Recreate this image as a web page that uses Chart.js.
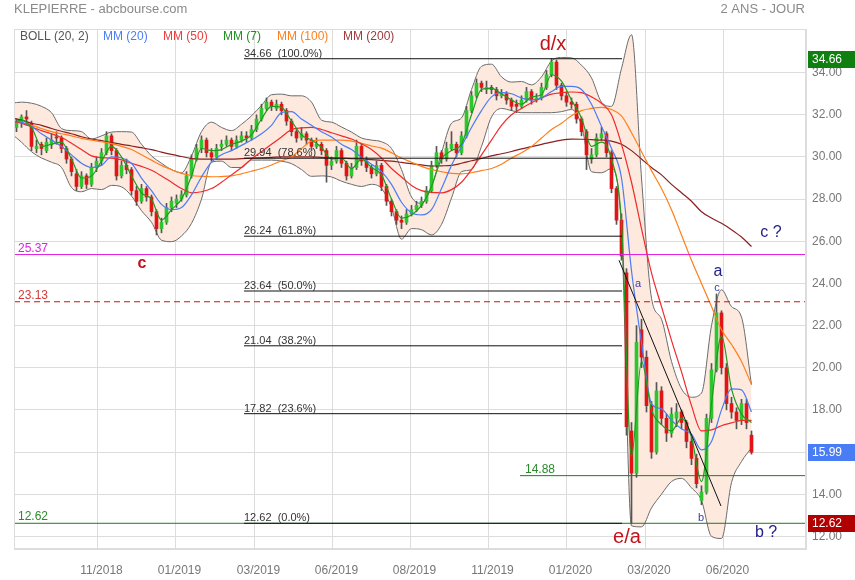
<!DOCTYPE html>
<html>
<head>
<meta charset="utf-8">
<script src="https://cdn.jsdelivr.net/npm/chart.js@4.4.1/dist/chart.umd.min.js"></script>
<style>
  html, body { margin: 0; padding: 0; background: #fff; }
  canvas { display: block; }
</style>
</head>
<body>
<canvas id="chart" width="855" height="580"></canvas>
<script>
// KLEPIERRE daily candles (one candle ~ every 2-3 sessions)
const opens = [
  31.4,31.6,31.9,31.6,30.4,30.6,30.3,30.6,30.95,30.9,
  30.4,29.9,29.2,28.6,29.1,28.7,29.5,29.8,30.2,31.0,
  30.3,29.1,29.6,29.4,28.4,27.9,28.5,28.1,27.4,26.6,
  26.9,27.6,27.8,28.0,28.2,29.1,29.9,30.4,30.8,30.2,
  30.0,30.5,30.6,30.8,30.5,30.8,31.0,30.9,31.3,31.8,
  32.3,32.6,32.3,32.5,32.2,31.7,31.2,30.9,31.1,30.8,
  30.5,30.6,30.3,29.6,29.8,30.3,29.7,29.1,29.5,30.5,
  29.8,29.5,29.2,29.6,28.6,27.9,27.4,27.0,26.9,27.3,
  27.5,27.7,27.9,28.4,29.6,30.2,29.9,30.4,30.6,30.2,
  31.0,32.2,32.9,33.5,33.2,33.3,33.2,32.9,33.0,32.7,
  32.5,32.4,32.7,33.1,32.7,32.8,33.3,33.9,34.5,33.4,
  32.9,32.6,32.5,31.8,31.2,29.9,30.1,30.9,31.1,30.2,
  28.5,27.0,24.5,17.0,15.0,21.8,20.5,18.2,16.0,18.9,
  17.6,16.9,17.6,17.9,17.4,16.5,15.7,13.7,14.1,17.6,
  19.9,22.6,20.0,18.3,17.9,17.5,18.3,16.8
];
const highs = [
  31.8,32.0,32.2,31.7,30.8,30.7,30.9,31.1,31.2,31.0,
  30.5,30.0,29.4,29.3,29.2,29.7,30.0,30.4,31.2,31.1,
  30.4,29.8,29.9,29.5,28.6,28.7,28.6,28.2,27.5,27.1,
  27.8,28.1,28.2,28.4,29.3,30.1,30.6,31.0,30.9,30.4,
  30.6,30.8,31.0,30.9,31.0,31.2,31.2,31.5,32.0,32.5,
  32.8,32.7,32.7,32.6,32.3,31.8,31.3,31.4,31.2,30.9,
  30.9,30.7,30.4,30.0,30.5,30.4,29.8,29.7,30.8,30.6,
  30.0,29.6,29.8,29.7,28.7,28.0,27.5,27.2,27.5,27.7,
  27.9,28.1,28.6,29.8,30.5,30.3,30.7,31.2,30.7,31.2,
  32.4,33.1,33.7,33.6,33.6,33.4,33.3,33.2,33.1,32.8,
  32.7,32.9,33.3,33.2,33.0,33.5,34.1,34.66,34.6,33.5,
  33.1,32.8,32.6,31.9,31.3,30.4,31.1,31.4,31.2,30.3,
  28.6,27.3,24.7,17.4,22.0,22.3,20.8,18.4,19.3,19.1,
  17.8,18.1,18.3,18.0,17.5,16.7,15.9,14.4,17.8,20.2,
  23.5,22.7,20.2,18.6,18.1,18.5,18.5,17.0
];
const lows = [
  31.2,31.4,31.5,30.3,30.2,30.1,30.2,30.4,30.6,30.2,
  29.7,29.1,28.4,28.5,28.5,28.6,29.3,29.6,30.1,30.1,
  28.9,29.0,29.2,28.2,27.7,27.8,27.9,27.2,26.3,26.4,
  26.8,27.4,27.6,27.9,28.1,29.0,29.8,30.2,30.0,29.8,
  29.9,30.3,30.5,30.3,30.4,30.7,30.7,30.8,31.2,31.7,
  32.2,32.2,32.2,32.0,31.5,31.0,30.7,30.8,30.6,30.3,
  30.4,30.1,28.8,29.4,29.7,29.5,28.9,29.0,29.4,29.6,
  29.3,29.0,29.1,28.4,27.7,27.2,26.8,26.6,26.8,27.2,
  27.4,27.6,27.8,28.3,29.5,29.7,29.8,30.3,30.0,30.1,
  30.9,32.1,32.8,33.1,33.0,33.0,32.7,32.8,32.5,32.2,
  32.1,32.3,32.6,32.5,32.6,32.7,33.2,33.8,33.2,32.7,
  32.4,32.3,31.6,31.0,29.4,29.7,30.0,30.8,30.0,28.3,
  26.8,25.1,16.8,12.62,14.8,20.0,17.9,15.7,15.9,17.3,
  16.5,16.7,17.2,17.1,16.2,15.4,14.3,13.5,14.0,17.4,
  19.8,19.7,18.0,17.6,17.1,17.3,17.1,15.9
];
const closes = [
  31.6,31.9,31.8,30.5,30.5,30.4,30.7,30.8,30.9,30.4,
  29.9,29.3,28.6,29.1,28.7,29.5,29.8,30.2,31.0,30.3,
  29.1,29.6,29.4,28.4,27.9,28.5,28.1,27.4,26.6,26.9,
  27.6,27.9,28.0,28.2,29.1,29.9,30.4,30.8,30.2,30.0,
  30.4,30.6,30.8,30.5,30.8,31.0,30.9,31.3,31.8,32.3,
  32.6,32.4,32.5,32.2,31.7,31.2,30.9,31.1,30.8,30.5,
  30.6,30.3,29.6,29.8,30.3,29.7,29.1,29.5,30.5,29.8,
  29.5,29.2,29.6,28.6,27.9,27.4,27.0,26.9,27.3,27.5,
  27.7,27.9,28.4,29.6,30.2,29.9,30.4,30.6,30.2,31.0,
  32.2,32.9,33.5,33.3,33.3,33.2,32.9,33.0,32.7,32.4,
  32.4,32.7,33.1,32.7,32.8,33.3,33.9,34.5,33.4,32.9,
  32.6,32.5,31.8,31.2,30.1,30.1,30.9,31.1,30.2,28.5,
  27.0,25.3,17.2,15.0,21.2,20.5,18.2,16.0,18.9,17.6,
  16.9,17.8,17.9,17.4,16.5,15.7,14.5,14.1,17.6,19.9,
  22.6,20.0,18.3,17.9,17.5,18.3,17.4,15.99
];

// indicator curves, one reading every 2 candles starting at candle -1
const lineStart = -1;
const lineStep = 2;
const mm7 = [
  31.6,31.75,31.4,30.5,30.6,30.7,29.9,29.0,29.1,29.8,
  30.5,30.0,29.1,28.3,28.0,27.0,27.5,28.0,29.1,30.4,
  30.3,30.35,30.6,30.75,31.05,31.8,32.4,32.35,31.7,31.05,
  30.8,30.45,29.9,29.95,29.45,29.9,29.5,29.15,28.0,27.1,
  27.25,27.7,28.6,29.9,30.3,30.6,32.0,33.2,33.25,33.0,
  32.7,32.5,32.85,32.95,33.9,33.6,32.7,31.85,30.5,30.7,
  29.9,26.9,15.8,20.3,18.0,17.3,17.0,17.6,16.7,14.6,
  18.3,21.5,19.0,17.8,17.4
];
const mm20 = [
  31.7,31.65,31.45,31.1,30.8,30.5,30.1,29.7,29.5,29.6,
  30.0,29.95,29.7,29.0,28.4,27.75,27.5,27.6,28.2,29.05,
  29.75,30.1,30.3,30.55,30.8,31.1,31.5,32.1,32.15,31.8,
  31.5,31.2,30.95,30.6,30.35,29.98,29.65,29.3,28.7,27.85,
  27.35,27.25,27.5,28.5,29.6,30.5,31.4,32.2,32.85,33.05,
  33.0,32.8,32.7,32.8,33.1,33.35,33.35,33.2,32.5,31.45,
  30.4,29.0,24.6,21.2,18.3,18.05,17.5,17.1,16.85,16.1,
  16.5,18.0,19.0,18.95,17.9
];
const mm50 = [
  31.7,31.6,31.42,31.25,31.1,30.92,30.65,30.35,30.05,29.97,
  29.94,29.86,29.7,29.55,29.37,29.1,28.8,28.5,28.3,28.35,
  28.5,28.8,29.15,29.5,29.9,30.25,30.6,30.95,31.3,31.38,
  31.4,31.3,31.15,31.0,30.85,30.62,30.35,29.95,29.45,29.05,
  28.65,28.4,28.32,28.3,28.45,28.8,29.4,30.1,30.8,31.5,
  32.0,32.3,32.57,32.8,32.98,33.05,33.08,33.05,32.85,32.55,
  32.0,30.6,28.8,26.6,24.5,22.9,21.3,19.8,18.2,17.0,
  17.05,17.25,17.38,17.5,17.5
];
const mm100 = [
  31.7,31.6,31.5,31.35,31.2,31.1,31.0,30.88,30.8,30.72,
  30.63,30.5,30.35,30.1,29.85,29.6,29.4,29.22,29.12,29.08,
  29.06,29.07,29.1,29.2,29.32,29.45,29.62,29.82,30.0,30.4,
  30.75,30.8,30.8,30.8,30.75,30.65,30.52,30.42,30.2,29.95,
  29.75,29.55,29.4,29.3,29.22,29.2,29.25,29.35,29.45,29.65,
  29.95,30.2,30.5,30.9,31.3,31.6,31.95,32.2,32.3,32.35,
  32.25,31.95,31.15,30.25,29.35,28.5,27.5,26.3,25.1,24.0,
  22.9,21.8,21.1,20.3,19.2
];
const mm200 = [
  31.85,31.75,31.6,31.5,31.35,31.22,31.1,30.96,30.85,30.77,
  30.69,30.6,30.52,30.44,30.35,30.23,30.12,30.02,29.92,29.9,
  29.9,29.9,29.9,29.92,29.94,29.96,29.98,30.0,30.0,30.0,
  30.0,29.98,29.96,29.94,29.92,29.9,29.87,29.84,29.8,29.74,
  29.68,29.62,29.57,29.58,29.6,29.7,29.82,29.93,30.05,30.15,
  30.26,30.38,30.49,30.6,30.7,30.8,30.85,30.84,30.82,30.8,
  30.75,30.6,30.3,29.9,29.5,29.15,28.7,28.3,27.9,27.4,
  27.1,26.85,26.55,26.2,25.75
];
const bollUpper = [
  32.55,32.6,32.55,32.4,32.1,31.35,31.25,31.2,30.85,31.0,
  31.18,31.2,31.18,30.6,30.05,29.7,29.4,29.25,30.05,31.2,
  31.65,31.4,31.25,31.55,31.95,32.45,32.95,32.98,32.9,32.9,
  32.6,31.75,31.65,31.42,31.18,30.9,30.8,30.72,30.4,29.4,
  28.1,27.8,28.6,30.2,31.6,31.85,33.2,34.3,34.4,33.8,
  33.55,33.58,33.42,33.8,34.55,34.72,34.7,34.35,33.75,32.6,
  32.4,34.2,35.8,29.0,23.3,22.3,20.3,19.0,18.6,18.8,
  22.0,23.7,22.9,22.4,19.2
];
const bollLower = [
  31.1,30.7,30.25,29.95,29.75,29.5,28.55,28.35,28.5,28.45,
  28.65,28.58,28.15,27.45,26.9,26.05,25.98,26.25,26.85,28.0,
  29.75,29.8,29.5,29.5,29.85,29.85,29.85,29.8,29.68,29.4,
  29.08,29.1,29.05,28.85,28.7,28.6,28.7,28.5,27.6,26.1,
  26.6,26.55,26.3,26.8,28.05,29.3,29.4,30.5,31.9,32.3,
  32.2,32.1,32.1,32.1,32.1,32.15,32.25,31.5,29.3,29.25,
  29.45,26.5,12.5,12.45,13.35,14.0,14.6,14.75,14.3,13.7,
  12.0,11.9,14.55,15.55,16.2
];

// axes
const xTickPos = [16.2, 31.8, 47.6, 63.2, 78.8, 94.4, 110.0, 125.7, 141.4];
const xTickLabels = ['11/2018', '01/2019', '03/2019', '06/2019', '08/2019', '11/2019', '01/2020', '03/2020', '06/2020'];
const yTicks = [12, 14, 16, 18, 20, 22, 24, 26, 28, 30, 32, 34];

// drawn levels
const fibLevels = [34.66, 29.94, 26.24, 23.64, 21.04, 17.82, 12.62];
const fibPcts = ['100.0%', '78.6%', '61.8%', '50.0%', '38.2%', '23.6%', '0.0%'];
const fibFrom = 45.5, fibTo = 121.1;
const resistLevel = 25.37;
const stopLevel = 23.13;
const lowLevel = 12.62;
const supportLevel = 14.88, supportFrom = 100.7;
const trendX = [120.5, 140.9];
const trendY = [25.1, 13.44];
const lastValue = 15.99, highValue = 34.66;

const FONT = '"Liberation Sans", Arial, sans-serif';
const X_MIN = -0.5, X_MAX = 157.9;

const series = vals => vals.map((v, k) => ({ x: lineStart + k * lineStep, y: v }));

function maLine(vals, color, order) {
  return {
    type: 'line', data: series(vals), borderColor: color, borderWidth: 1.2,
    pointRadius: 0, cubicInterpolationMode: 'monotone', fill: false, order
  };
}

function hLine(level, from, to, color, dash, order = 1) {
  return {
    type: 'line', data: [{ x: from, y: level }, { x: to, y: level }],
    borderColor: color, borderWidth: 1, borderDash: dash || [], pointRadius: 0,
    fill: false, order
  };
}

const isUp = closes.map((c, i) => c >= opens[i]);

const datasets = [
  {
    type: 'line', data: series(bollUpper), borderColor: '#6b6b6b', borderWidth: 1,
    pointRadius: 0, cubicInterpolationMode: 'monotone', fill: '+1',
    backgroundColor: '#fde9de', order: 20
  },
  {
    type: 'line', data: series(bollLower), borderColor: '#6b6b6b', borderWidth: 1,
    pointRadius: 0, cubicInterpolationMode: 'monotone', fill: false, order: 19
  },
  {
    type: 'bar', data: closes.map((c, i) => ({ x: i, y: [lows[i], highs[i]] })),
    backgroundColor: '#555555', barThickness: 1, grouped: false, order: 16
  },
  {
    type: 'bar', data: closes.map((c, i) => ({ x: i, y: [opens[i], c] })),
    backgroundColor: isUp.map(u => u ? '#2fc52f' : '#e01616'),
    barThickness: 3, grouped: false, minBarLength: 1, order: 15
  },
  maLine(mm200, '#8b1f1f', 10),
  maLine(mm100, '#ff7f1a', 9),
  maLine(mm50, '#f02a2a', 8),
  maLine(mm20, '#4a7df5', 7),
  maLine(mm7, '#1f9a1f', 6),
  ...fibLevels.map(lv => hLine(lv, fibFrom, fibTo, '#111111')),
  hLine(resistLevel, X_MIN, X_MAX, '#e01ee0'),
  hLine(stopLevel, X_MIN, X_MAX, '#d01010', [6, 4]),
  hLine(lowLevel, X_MIN, X_MAX, '#1f7a1f', null, 2),
  hLine(supportLevel, supportFrom, X_MAX, '#1f7a1f'),
  {
    type: 'line', data: trendX.map((x, i) => ({ x, y: trendY[i] })),
    borderColor: '#111111', borderWidth: 1, pointRadius: 0, fill: false, order: 1
  }
];

const levelTags = [
  { text: resistLevel.toFixed(2), x: X_MIN + 0.8, y: resistLevel, color: '#e01ee0' },
  { text: stopLevel.toFixed(2), x: X_MIN + 0.8, y: stopLevel, color: '#d03a3a' },
  { text: lowLevel.toFixed(2), x: X_MIN + 0.8, y: lowLevel, color: '#2a8a2a' },
  { text: supportLevel.toFixed(2), x: supportFrom + 1, y: supportLevel, color: '#2a8a2a' }
];

const waveLabels = [
  { text: 'd/x', x: 107.3, y: 35.35, color: '#c4121a', size: 20 },
  { text: 'c', x: 25.1, y: 24.96, color: '#c4121a', size: 16, bold: true },
  { text: 'e/a', x: 122.1, y: 11.97, color: '#c4121a', size: 20 },
  { text: 'a', x: 140.3, y: 24.54, color: '#22228c', size: 16 },
  { text: 'c ?', x: 150.9, y: 26.39, color: '#22228c', size: 16 },
  { text: 'b ?', x: 149.9, y: 12.2, color: '#22228c', size: 16 },
  { text: 'a', x: 124.3, y: 23.97, color: '#3a3aa8', size: 11 },
  { text: 'c', x: 140.1, y: 23.78, color: '#3a3aa8', size: 11 },
  { text: 'b', x: 136.9, y: 12.87, color: '#3a3aa8', size: 11 }
];

const legendItems = [
  { text: 'BOLL (20, 2)', dx: 6, color: '#555555' },
  { text: 'MM (20)', dx: 89, color: '#4a7df5' },
  { text: 'MM (50)', dx: 149, color: '#f03a3a' },
  { text: 'MM (7)', dx: 209, color: '#1f8f1f' },
  { text: 'MM (100)', dx: 263, color: '#ff7f1a' },
  { text: 'MM (200)', dx: 329, color: '#a03a3a' }
];

const badges = [
  { value: highValue, color: '#0f7f0f' },
  { value: lastValue, color: '#4a7df5' },
  { value: lowLevel, color: '#b00000' }
];

const overlay = {
  id: 'overlay',
  afterDatasetsDraw(chart) {
    const { ctx, scales: { x, y } } = chart;
    ctx.save();
    ctx.textAlign = 'left';
    ctx.textBaseline = 'alphabetic';
    ctx.font = '11px ' + FONT;
    ctx.fillStyle = '#333';
    fibLevels.forEach((lv, i) => {
      ctx.fillText(lv.toFixed(2) + '  (' + fibPcts[i] + ')', x.getPixelForValue(fibFrom), y.getPixelForValue(lv) - 2);
    });
    ctx.font = '12px ' + FONT;
    levelTags.forEach(t => {
      ctx.fillStyle = t.color;
      ctx.fillText(t.text, x.getPixelForValue(t.x), y.getPixelForValue(t.y) - 3);
    });
    ctx.textAlign = 'center';
    ctx.textBaseline = 'middle';
    waveLabels.forEach(w => {
      ctx.font = (w.bold ? 'bold ' : '') + w.size + 'px ' + FONT;
      ctx.fillStyle = w.color;
      ctx.fillText(w.text, x.getPixelForValue(w.x), y.getPixelForValue(w.y));
    });
    ctx.restore();
  },
  afterDraw(chart) {
    const { ctx, chartArea: a, scales: { y } } = chart;
    ctx.save();
    ctx.strokeStyle = '#dcdcdc';
    ctx.lineWidth = 1;
    ctx.strokeRect(a.left + 0.5, a.top + 0.5, a.right - a.left - 1, a.bottom - a.top - 1);

    ctx.textBaseline = 'middle';
    ctx.font = '13px ' + FONT;
    ctx.fillStyle = '#8a8a8a';
    ctx.textAlign = 'left';
    ctx.fillText('KLEPIERRE - abcbourse.com', 14, 9);
    ctx.textAlign = 'right';
    ctx.fillText('2 ANS - JOUR', 805, 9);

    ctx.font = '12px ' + FONT;
    ctx.textAlign = 'left';
    legendItems.forEach(it => {
      ctx.fillStyle = it.color;
      ctx.fillText(it.text, a.left + it.dx, a.top + 8);
    });

    badges.forEach(b => {
      const py = Math.round(y.getPixelForValue(b.value));
      ctx.fillStyle = b.color;
      ctx.fillRect(a.right + 2, py - 8, 47, 17);
      ctx.fillStyle = '#ffffff';
      ctx.fillText(b.value.toFixed(2), a.right + 6, py + 1);
    });
    ctx.restore();
  }
};

new Chart(document.getElementById('chart'), {
  type: 'bar',
  data: { datasets },
  plugins: [overlay],
  options: {
    responsive: false,
    animation: false,
    devicePixelRatio: 1,
    events: [],
    layout: { padding: { left: 14, top: 29, right: 0, bottom: 0 } },
    plugins: { legend: { display: false }, tooltip: { enabled: false } },
    scales: {
      x: {
        type: 'linear', min: X_MIN, max: X_MAX, offset: false,
        grid: { color: '#dcdcdc', drawTicks: false, offset: false },
        border: { color: '#dcdcdc' },
        afterBuildTicks: s => { s.ticks = xTickPos.map(v => ({ value: v })); },
        afterFit: s => { s.height = 31; },
        ticks: {
          padding: 14, labelOffset: 4, color: '#777', autoSkip: false, maxRotation: 0,
          font: { family: FONT, size: 12 },
          callback: (v, i) => xTickLabels[i]
        }
      },
      y: {
        position: 'right', min: 11.4, max: 36.07,
        grid: { color: '#dcdcdc', drawTicks: false },
        border: { color: '#dcdcdc' },
        afterBuildTicks: s => { s.ticks = yTicks.map(v => ({ value: v })); },
        afterFit: s => { s.width = 49; },
        ticks: {
          padding: 6, color: '#777',
          font: { family: FONT, size: 12 },
          callback: v => Number(v).toFixed(2)
        }
      }
    }
  }
});
</script>
</body>
</html>
